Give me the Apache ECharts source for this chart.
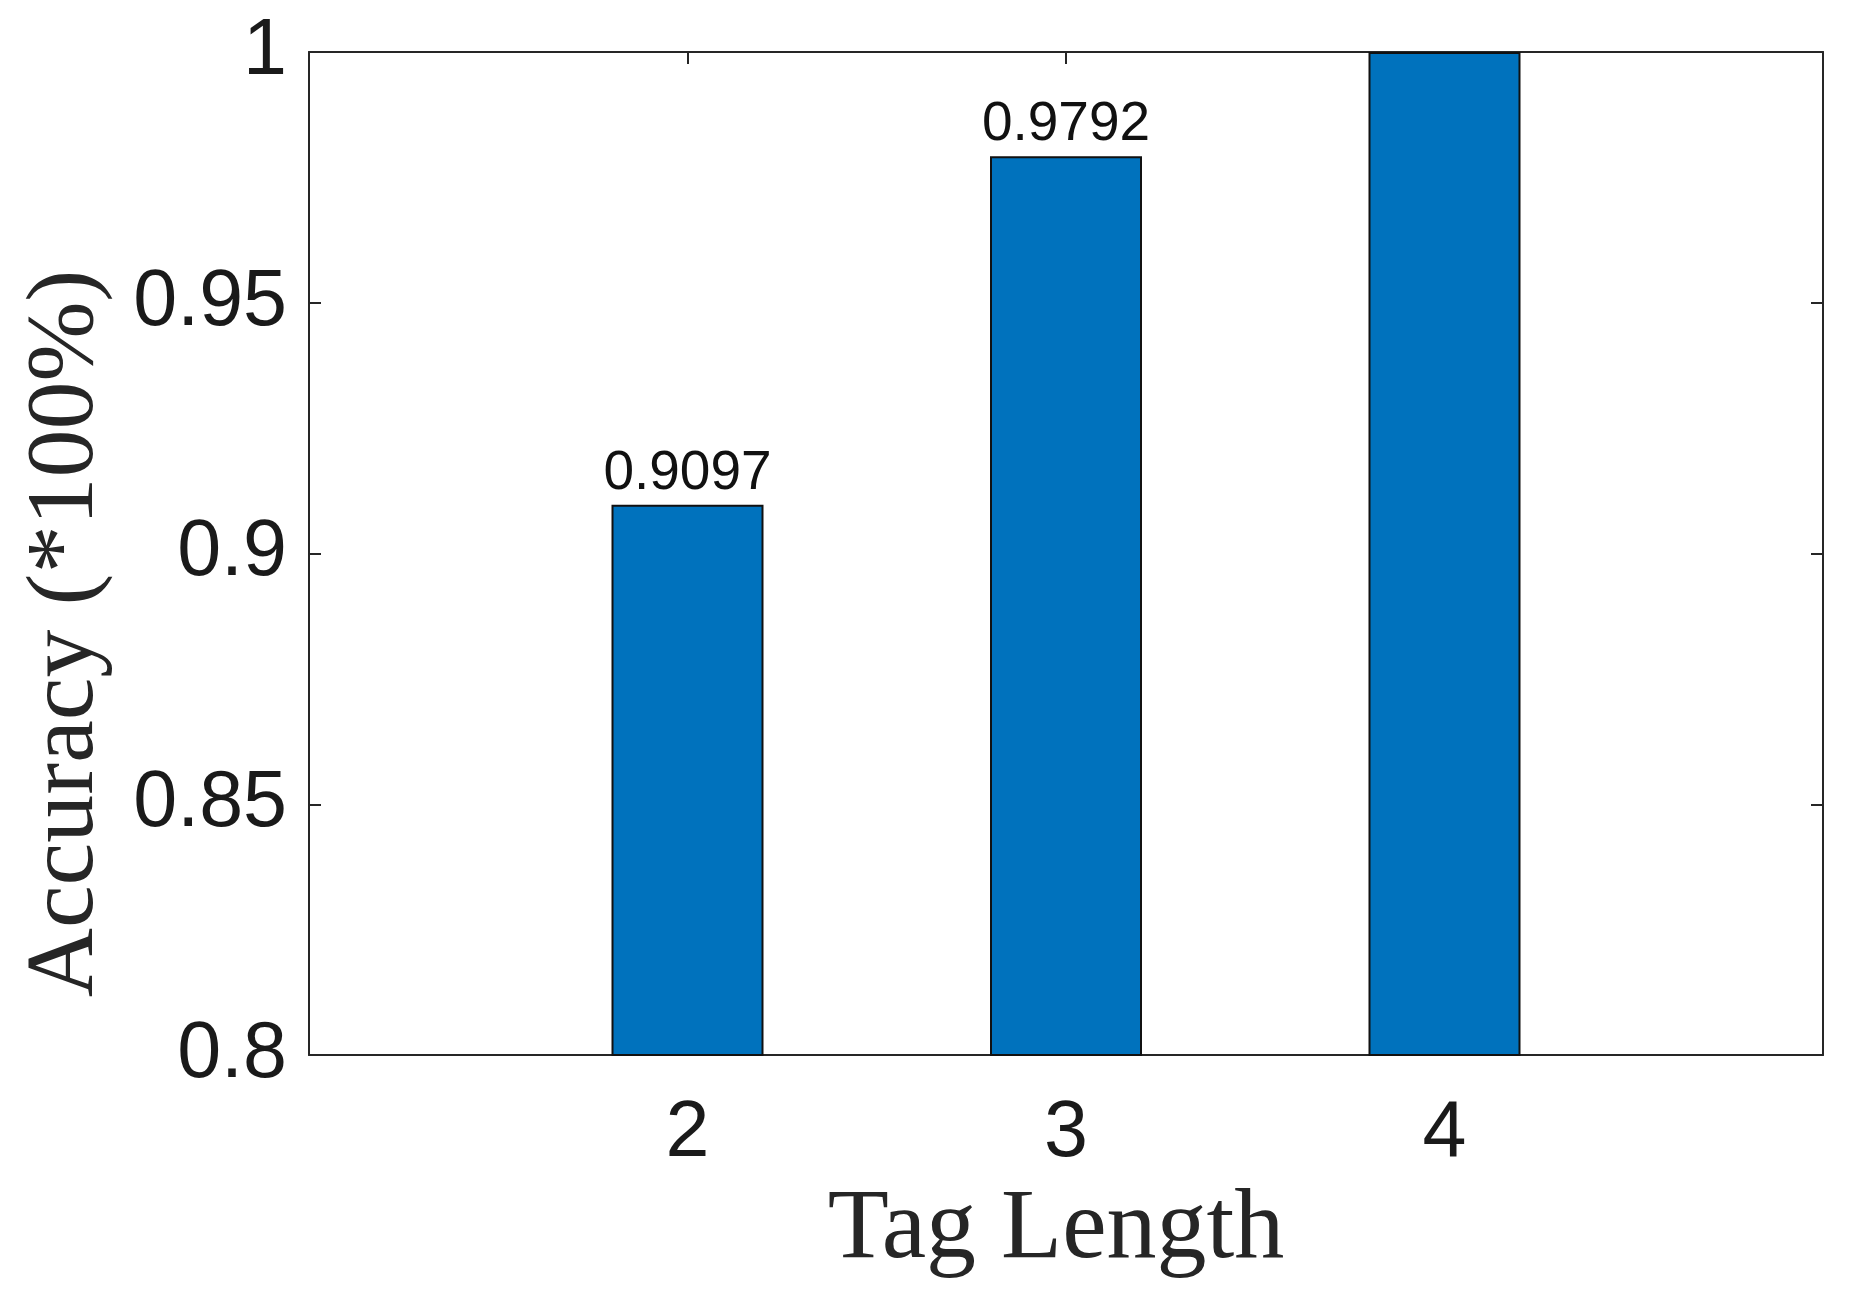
<!DOCTYPE html>
<html>
<head>
<meta charset="utf-8">
<script src="https://cdn.jsdelivr.net/npm/echarts@6/dist/echarts.min.js"></script>
<style>
html,body{margin:0;padding:0;background:#fff;}
#chart{width:1850px;height:1303px;}
</style>
</head>
<body>
<div id="chart"></div>
<script>
const tagLengths = [2, 3, 4];
const accuracy = [0.9097, 0.9792, 1];
const barLabels = ['0.9097', '0.9792', ''];
const xTickLabels = ['2', '3', '4'];
const yTickLabels = ['0.8', '0.85', '0.9', '0.95', '1'];

const axisColor = '#262626';
const chart = echarts.init(document.getElementById('chart'), null, {renderer: 'canvas'});

const seriesData = tagLengths.map((t, i) => ({
  value: [t, accuracy[i]],
  label: {show: barLabels[i] !== '', formatter: barLabels[i]}
}));

const option = {
  backgroundColor: '#ffffff',
  animation: false,
  grid: {left: 309, right: 27, top: 52, bottom: 248, containLabel: false},
  xAxis: [{
    type: 'value', min: 1, max: 5, interval: 1,
    name: 'Tag Length', nameLocation: 'middle', nameGap: 126,
    nameTextStyle: {fontFamily: 'Liberation Serif', fontSize: 100, color: axisColor, padding: [0, 20, 0, 0]},
    axisLine: {show: true, lineStyle: {color: axisColor, width: 2}},
    axisTick: {show: true, inside: true, length: 12, lineStyle: {color: axisColor, width: 2}},
    axisLabel: {
      fontFamily: 'Liberation Sans', fontSize: 79, color: '#1a1a1a', margin: 40,
      formatter: v => (xTickLabels.indexOf(String(v)) >= 0 ? String(v) : '')
    },
    splitLine: {show: false}
  }, {
    type: 'value', min: 1, max: 5, interval: 1, position: 'top',
    axisLine: {show: true, lineStyle: {color: axisColor, width: 2}},
    axisTick: {show: true, inside: true, length: 12, lineStyle: {color: axisColor, width: 2}},
    axisLabel: {show: false}, splitLine: {show: false}
  }],
  yAxis: [{
    type: 'value', min: 0.8, max: 1, interval: 0.05,
    name: 'Accuracy (*100%)', nameLocation: 'middle', nameGap: 194, nameRotate: 90,
    nameTextStyle: {fontFamily: 'Liberation Serif', fontSize: 96, color: axisColor, padding: [0, 160, 0, 0]},
    axisLine: {show: true, lineStyle: {color: axisColor, width: 2}},
    axisTick: {show: true, inside: true, length: 12, lineStyle: {color: axisColor, width: 2}},
    axisLabel: {
      fontFamily: 'Liberation Sans', fontSize: 79, color: '#1a1a1a', margin: 22,
      formatter: v => {
        const s = String(Math.round(v * 100) / 100);
        return yTickLabels.indexOf(s) >= 0 ? s : '';
      }
    },
    splitLine: {show: false}
  }, {
    type: 'value', min: 0.8, max: 1, interval: 0.05, position: 'right',
    axisLine: {show: true, lineStyle: {color: axisColor, width: 2}},
    axisTick: {show: true, inside: true, length: 12, lineStyle: {color: axisColor, width: 2}},
    axisLabel: {show: false}, splitLine: {show: false}
  }],
  series: [{
    type: 'bar',
    xAxisIndex: 0, yAxisIndex: 0,
    barWidth: 152,
    data: seriesData,
    itemStyle: {color: '#0072BD', borderColor: '#111111', borderWidth: 2},
    label: {
      position: 'top', distance: 4,
      fontFamily: 'Liberation Sans', fontSize: 55, color: '#111111'
    }
  }]
};
chart.setOption(option);
</script>
</body>
</html>
